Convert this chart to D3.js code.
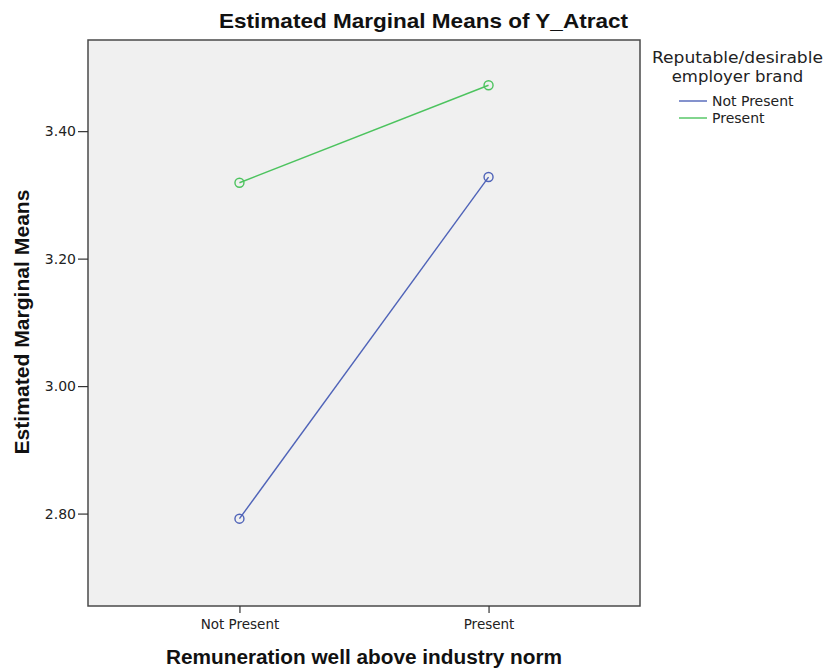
<!DOCTYPE html>
<html><head><meta charset="utf-8">
<script src="https://cdn.jsdelivr.net/npm/d3@7"></script>
<style>body{margin:0;background:#fff;}</style>
</head><body>
<svg id="c" width="828" height="669"></svg>
<script>
const categories = ["Not Present", "Present"];
const seriesNames = ["Not Present", "Present"];
const notPresentValues = [2.792, 3.328];
const presentValues = [3.319, 3.472];
const yTicks = [2.80, 3.00, 3.20, 3.40];
const colors = ["#4f63b8", "#4cc35e"];

const svg = d3.select("#c");
const L = 88, R = 640, T = 40, B = 606;
const x = d3.scalePoint().domain(categories).range([L, R]).padding(0.608);
const y = d3.scaleLinear().domain([2.655, 3.543]).range([B, T]);

svg.append("rect").attr("x", L).attr("y", T).attr("width", R - L).attr("height", B - T)
  .attr("fill", "#f0f0f0").attr("stroke", "#4a4a4a").attr("stroke-width", 1.5);

const yAxis = svg.append("g").attr("transform", `translate(${L},0)`)
  .call(d3.axisLeft(y).tickValues(yTicks).tickFormat(d3.format(".2f")).tickSize(10).tickSizeOuter(0));
yAxis.select(".domain").remove();
yAxis.selectAll("line").attr("stroke", "#333").attr("stroke-width", 1.2);
yAxis.selectAll("text").attr("font-family", "DejaVu Sans").attr("font-size", 14).attr("fill", "#222").attr("dx", 1);

const xAxis = svg.append("g").attr("transform", `translate(0,${B})`)
  .call(d3.axisBottom(x).tickSize(7).tickSizeOuter(0));
xAxis.select(".domain").remove();
xAxis.selectAll("line").attr("stroke", "#333").attr("stroke-width", 1.2);
xAxis.selectAll("text").attr("font-family", "DejaVu Sans").attr("font-size", 13.5).attr("fill", "#222").attr("dy", "0.95em");

const series = [notPresentValues, presentValues];
const line = d3.line().x((d, i) => x(categories[i])).y(d => y(d));
series.forEach((vals, si) => {
  svg.append("path").datum(vals).attr("d", line).attr("fill", "none")
    .attr("stroke", colors[si]).attr("stroke-width", 1.4);
  svg.selectAll(null).data(vals).enter().append("circle")
    .attr("cx", (d, i) => x(categories[i])).attr("cy", d => y(d)).attr("r", 4.5)
    .attr("fill", "none").attr("stroke", colors[si]).attr("stroke-width", 1.4);
});

svg.append("text").attr("x", 423.5).attr("y", 28).attr("text-anchor", "middle")
  .attr("font-family", "Liberation Sans").attr("font-weight", "bold")
  .attr("font-size", 21).attr("textLength", 409).attr("lengthAdjust", "spacingAndGlyphs")
  .attr("fill", "#111").text("Estimated Marginal Means of Y_Atract");

svg.append("text").attr("x", 364).attr("y", 664).attr("text-anchor", "middle")
  .attr("font-family", "Liberation Sans").attr("font-weight", "bold")
  .attr("font-size", 20).attr("textLength", 396).attr("lengthAdjust", "spacingAndGlyphs")
  .attr("fill", "#111").text("Remuneration well above industry norm");

svg.append("text").attr("transform", "translate(29,322) rotate(-90)").attr("text-anchor", "middle")
  .attr("font-family", "Liberation Sans").attr("font-weight", "bold")
  .attr("font-size", 20).attr("textLength", 265).attr("lengthAdjust", "spacingAndGlyphs")
  .attr("fill", "#111").text("Estimated Marginal Means");

const lg = svg.append("g");
lg.append("text").attr("x", 737.5).attr("y", 63).attr("text-anchor", "middle")
  .attr("font-family", "DejaVu Sans").attr("font-size", 16.5).attr("textLength", 171).attr("lengthAdjust", "spacingAndGlyphs")
  .attr("fill", "#222").text("Reputable/desirable");
lg.append("text").attr("x", 737.5).attr("y", 82).attr("text-anchor", "middle")
  .attr("font-family", "DejaVu Sans").attr("font-size", 16.5).attr("fill", "#222").text("employer brand");
seriesNames.forEach((n, i) => {
  const yy = 101 + i * 17;
  lg.append("line").attr("x1", 679).attr("x2", 707).attr("y1", yy).attr("y2", yy)
    .attr("stroke", colors[i]).attr("stroke-width", 1.4);
  lg.append("text").attr("x", 712).attr("y", yy + 5).attr("font-family", "DejaVu Sans")
    .attr("font-size", 14).attr("fill", "#222").text(n);
});
</script>
</body></html>
